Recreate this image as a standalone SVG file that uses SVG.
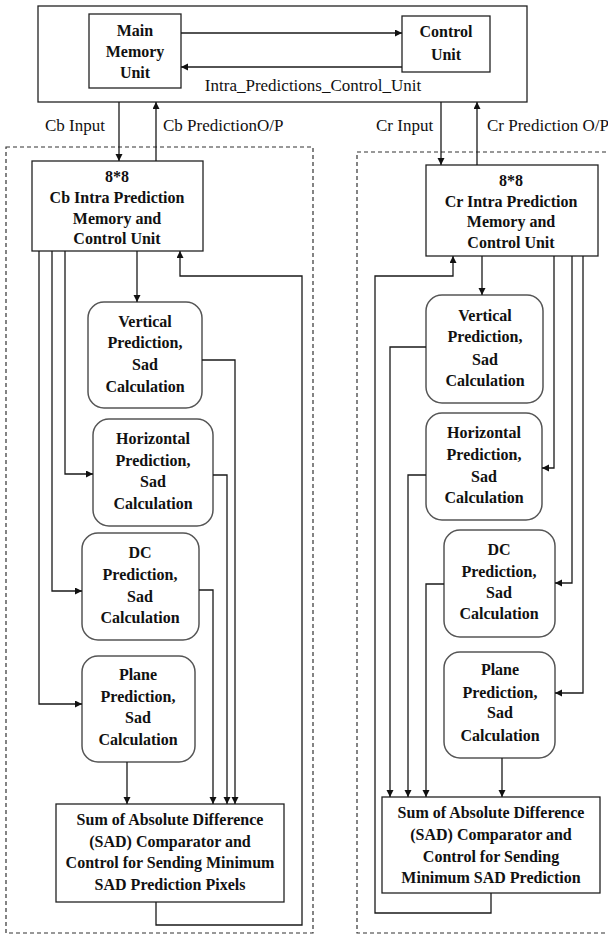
<svg xmlns="http://www.w3.org/2000/svg" width="608" height="936" viewBox="0 0 608 936">
  <style>
    .box { fill: #fff; stroke: #222; stroke-width: 1.3; }
    .rbox { fill: #fff; stroke: #555; stroke-width: 1.5; }
    .dash { fill: none; stroke: #333; stroke-width: 1.2; stroke-dasharray: 4 3; }
    .wire { fill: none; stroke: #1a1a1a; stroke-width: 1.3; }
    .t { font-family: "Liberation Serif", "Times New Roman", serif; font-size: 16px; font-weight: bold; fill: #111; text-anchor: middle; }
    .lbl { font-family: "Liberation Serif", "Times New Roman", serif; font-size: 17px; fill: #111; }
  </style>
  <defs>
    <marker id="ah" markerWidth="8" markerHeight="8" refX="7" refY="3.5" orient="auto" markerUnits="userSpaceOnUse">
      <path d="M0,0 L7,3.5 L0,7 z" fill="#111"/>
    </marker>
  </defs>

  <!-- chroma block enclosures -->
  <rect class="dash" x="6" y="147" width="307" height="786"/>
  <rect class="dash" x="357" y="152" width="262" height="781"/>

  <!-- top-level control block -->
  <g id="intra-control">
    <rect class="box" x="38" y="6" width="489" height="96"/>
    <text class="lbl" x="313" y="91" text-anchor="middle" font-size="17.5">Intra_Predictions_Control_Unit</text>
  </g>
  <g id="main-memory">
    <rect class="box" x="89" y="14" width="92" height="74"/>
    <text class="t" x="135" y="36">Main</text>
    <text class="t" x="135" y="57">Memory</text>
    <text class="t" x="135" y="78">Unit</text>
  </g>
  <g id="control-unit">
    <rect class="box" x="402" y="16" width="88" height="56"/>
    <text class="t" x="446" y="37">Control</text>
    <text class="t" x="446" y="60">Unit</text>
  </g>

  <!-- Cb path -->
  <g id="cb-mem">
    <rect class="box" x="32" y="161" width="171" height="90"/>
    <text class="t" x="117" y="182">8*8</text>
    <text class="t" x="117" y="203">Cb Intra Prediction</text>
    <text class="t" x="117" y="224">Memory and</text>
    <text class="t" x="117" y="244">Control Unit</text>
  </g>
  <g id="cb-vertical">
    <rect class="rbox" x="88" y="302" width="114" height="106" rx="16"/>
    <text class="t" x="145" y="327">Vertical</text>
    <text class="t" x="145" y="348">Prediction,</text>
    <text class="t" x="145" y="370">Sad</text>
    <text class="t" x="145" y="392">Calculation</text>
  </g>
  <g id="cb-horizontal">
    <rect class="rbox" x="93" y="419" width="120" height="107" rx="16"/>
    <text class="t" x="153" y="444">Horizontal</text>
    <text class="t" x="153" y="466">Prediction,</text>
    <text class="t" x="153" y="487">Sad</text>
    <text class="t" x="153" y="509">Calculation</text>
  </g>
  <g id="cb-dc">
    <rect class="rbox" x="82" y="533" width="117" height="107" rx="16"/>
    <text class="t" x="140" y="558">DC</text>
    <text class="t" x="140" y="580">Prediction,</text>
    <text class="t" x="140" y="602">Sad</text>
    <text class="t" x="140" y="623">Calculation</text>
  </g>
  <g id="cb-plane">
    <rect class="rbox" x="82" y="656" width="113" height="106" rx="16"/>
    <text class="t" x="138" y="680">Plane</text>
    <text class="t" x="138" y="702">Prediction,</text>
    <text class="t" x="138" y="723">Sad</text>
    <text class="t" x="138" y="745">Calculation</text>
  </g>
  <g id="cb-sad">
    <rect class="box" x="56" y="804" width="228" height="98"/>
    <text class="t" x="170" y="825">Sum of Absolute Difference</text>
    <text class="t" x="170" y="847">(SAD) Comparator and</text>
    <text class="t" x="170" y="868">Control for Sending Minimum</text>
    <text class="t" x="170" y="890">SAD Prediction Pixels</text>
  </g>

  <!-- Cr path -->
  <g id="cr-mem">
    <rect class="box" x="426" y="165" width="172" height="91"/>
    <text class="t" x="511" y="186">8*8</text>
    <text class="t" x="511" y="207">Cr Intra Prediction</text>
    <text class="t" x="511" y="227">Memory and</text>
    <text class="t" x="511" y="248">Control Unit</text>
  </g>
  <g id="cr-vertical">
    <rect class="rbox" x="426" y="295" width="117" height="108" rx="16"/>
    <text class="t" x="485" y="321">Vertical</text>
    <text class="t" x="485" y="342">Prediction,</text>
    <text class="t" x="485" y="365">Sad</text>
    <text class="t" x="485" y="386">Calculation</text>
  </g>
  <g id="cr-horizontal">
    <rect class="rbox" x="426" y="413" width="116" height="107" rx="16"/>
    <text class="t" x="484" y="438">Horizontal</text>
    <text class="t" x="484" y="460">Prediction,</text>
    <text class="t" x="484" y="482">Sad</text>
    <text class="t" x="484" y="503">Calculation</text>
  </g>
  <g id="cr-dc">
    <rect class="rbox" x="444" y="530" width="111" height="107" rx="16"/>
    <text class="t" x="499" y="555">DC</text>
    <text class="t" x="499" y="577">Prediction,</text>
    <text class="t" x="499" y="598">Sad</text>
    <text class="t" x="499" y="619">Calculation</text>
  </g>
  <g id="cr-plane">
    <rect class="rbox" x="444" y="652" width="111" height="106" rx="16"/>
    <text class="t" x="500" y="675">Plane</text>
    <text class="t" x="500" y="698">Prediction,</text>
    <text class="t" x="500" y="718">Sad</text>
    <text class="t" x="500" y="741">Calculation</text>
  </g>
  <g id="cr-sad">
    <rect class="box" x="382" y="797" width="218" height="96"/>
    <text class="t" x="491" y="818">Sum of Absolute Difference</text>
    <text class="t" x="491" y="840">(SAD) Comparator and</text>
    <text class="t" x="491" y="862">Control for Sending</text>
    <text class="t" x="491" y="883">Minimum SAD Prediction</text>
  </g>

  <!-- connectors -->
  <g id="connectors" class="wire" marker-end="url(#ah)">
    <!-- memory / control exchange -->
    <path d="M181,33 H402"/>
    <path d="M402,67 H181"/>
    <!-- chroma inputs and outputs -->
    <path d="M119,102 V161"/>
    <path d="M156,161 V102"/>
    <path d="M441,102 V165"/>
    <path d="M477,165 V102"/>
    <!-- Cb fan-out -->
    <path d="M137,251 V302"/>
    <path d="M65,251 V474 H93"/>
    <path d="M52,251 V591 H82"/>
    <path d="M39,251 V704 H82"/>
    <!-- Cb results to comparator -->
    <path d="M202,360 H235 V804"/>
    <path d="M213,475 H227 V804"/>
    <path d="M199,590 H213 V804"/>
    <path d="M127,762 V804"/>
    <!-- Cb feedback -->
    <path d="M156,902 V925 H302 V276 H180 V251"/>
    <!-- Cr fan-out -->
    <path d="M482,256 V295"/>
    <path d="M554,256 V468 H542"/>
    <path d="M572,256 V583 H555"/>
    <path d="M583,256 V693 H555"/>
    <!-- Cr results to comparator -->
    <path d="M426,347 H390 V797"/>
    <path d="M426,475 H408 V797"/>
    <path d="M444,584 H426 V797"/>
    <path d="M502,758 V797"/>
    <!-- Cr feedback -->
    <path d="M491,893 V913 H375 V276 H453 V256"/>
  </g>

  <!-- port labels -->
  <text class="lbl" x="45" y="131">Cb Input</text>
  <text class="lbl" x="163" y="131">Cb PredictionO/P</text>
  <text class="lbl" x="376" y="131">Cr Input</text>
  <text class="lbl" x="487" y="131">Cr Prediction O/P</text>
</svg>
